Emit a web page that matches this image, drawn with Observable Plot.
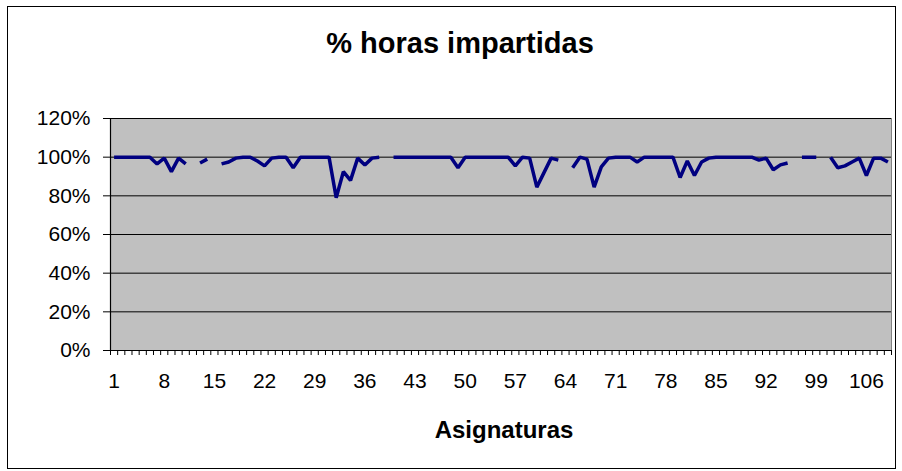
<!DOCTYPE html>
<html>
<head>
<meta charset="utf-8">
<script src="https://cdn.jsdelivr.net/npm/d3@7"></script>
<script src="https://cdn.jsdelivr.net/npm/@observablehq/plot@0.6"></script>
<style>
  html, body { margin: 0; padding: 0; background: #fff; }
  #wrap { position: relative; width: 902px; height: 471px; overflow: hidden; }
  #border { position: absolute; left: 7px; top: 6px; width: 887px; height: 461px; border: 1.5px solid #000; box-sizing: content-box; pointer-events: none; }
  svg { font-family: "Liberation Sans", Arial, sans-serif; }
</style>
</head>
<body>
<div id="wrap"><div id="border"></div></div>
<script>
const title = "% horas impartidas";
const xTitle = "Asignaturas";

const categories = [
  1,2,3,4,5,6,7,8,9,10,11,12,13,14,15,16,17,18,19,20,
  21,22,23,24,25,26,27,28,29,30,31,32,33,34,35,36,37,38,39,40,
  41,42,43,44,45,46,47,48,49,50,51,52,53,54,55,56,57,58,59,60,
  61,62,63,64,65,66,67,68,69,70,71,72,73,74,75,76,77,78,79,80,
  81,82,83,84,85,86,87,88,89,90,91,92,93,94,95,96,97,98,99,100,
  101,102,103,104,105,106,107,108,109
];

// % of hours taught per subject (null = no data, line gap)
const pctHoras = [
  100,100,100,100,100,100,96.5,99.5,92.5,99.5,      // 1-10
  96.5,null,97,99,null,96.5,97.5,99.5,100,100,      // 11-20
  98,95.5,99.5,100,100,94.5,100,100,100,100,        // 21-30
  100,79,92.5,88,99.5,96,99.5,100,null,100,         // 31-40
  100,100,100,100,100,100,100,100,94.5,100,         // 41-50
  100,100,100,100,100,100,95.5,100,99.5,84.5,       // 51-60
  92,99.5,98.5,null,94.5,100,99,84.5,95,99.5,       // 61-70
  100,100,100,97.5,100,100,100,100,100,89.5,        // 71-80
  98,90.5,97.5,99.5,100,100,100,100,100,100,        // 81-90
  98.5,99.5,93.5,96,97,null,100,100,100,null,       // 91-100
  100,94.5,95.5,97.5,99.5,90.5,99.5,99.5,97.5       // 101-109
];

const xTickLabels = [1,8,15,22,29,36,43,50,57,64,71,78,85,92,99,106];
const yTicks = [0,20,40,60,80,100,120];

const data = categories.map((c, i) => ({cat: c, pct: pctHoras[i]}));
const boundaries = categories.map(c => c - 0.5).concat([categories[categories.length - 1] + 0.5]);
const xDomain = [categories[0] - 0.5, categories[categories.length - 1] + 0.5];

const chart = Plot.plot({
  width: 902,
  height: 471,
  marginLeft: 110,
  marginRight: 11,
  marginTop: 118,
  marginBottom: 121,
  style: {fontFamily: "'Liberation Sans', Arial, sans-serif", fontSize: "21px", color: "#000", background: "transparent", overflow: "visible"},
  x: {type: "linear", domain: xDomain, axis: null, label: null},
  y: {domain: [0, 120], axis: null, label: null},
  marks: [
    Plot.frame({fill: "#c0c0c0", stroke: "#808080"}),
    Plot.ruleY(yTicks.filter(d => d > 0), {stroke: "#000", strokeWidth: 1}),
    Plot.ruleY([0], {stroke: "#000", strokeWidth: 1.2}),
    Plot.ruleX([xDomain[0]], {stroke: "#000", strokeWidth: 1.2}),
    Plot.axisY({ticks: yTicks, tickFormat: d => d + "%", tickSize: 7, tickPadding: 13, fontSize: 21, stroke: "#000", label: null}),
    Plot.axisX({ticks: boundaries, tickFormat: () => "", tickSize: 5, stroke: "#000", label: null}),
    Plot.axisX({ticks: xTickLabels, tickFormat: d => String(d), tickSize: 0, tickPadding: 23, fontSize: 21, label: null}),
    Plot.line(data, {x: "cat", y: "pct", stroke: "#000080", strokeWidth: 3.5, strokeLinejoin: "miter", strokeLinecap: "butt"}),
    Plot.text([title], {frameAnchor: "top", dx: -41, dy: -75, fontSize: 29, fontWeight: "bold", fill: "#000", lineAnchor: "middle"}),
    Plot.text([xTitle], {frameAnchor: "bottom", dx: 3, dy: 80, fontSize: 24, fontWeight: "bold", fill: "#000", lineAnchor: "middle"})
  ]
});

document.getElementById("wrap").appendChild(chart);
</script>
</body>
</html>
